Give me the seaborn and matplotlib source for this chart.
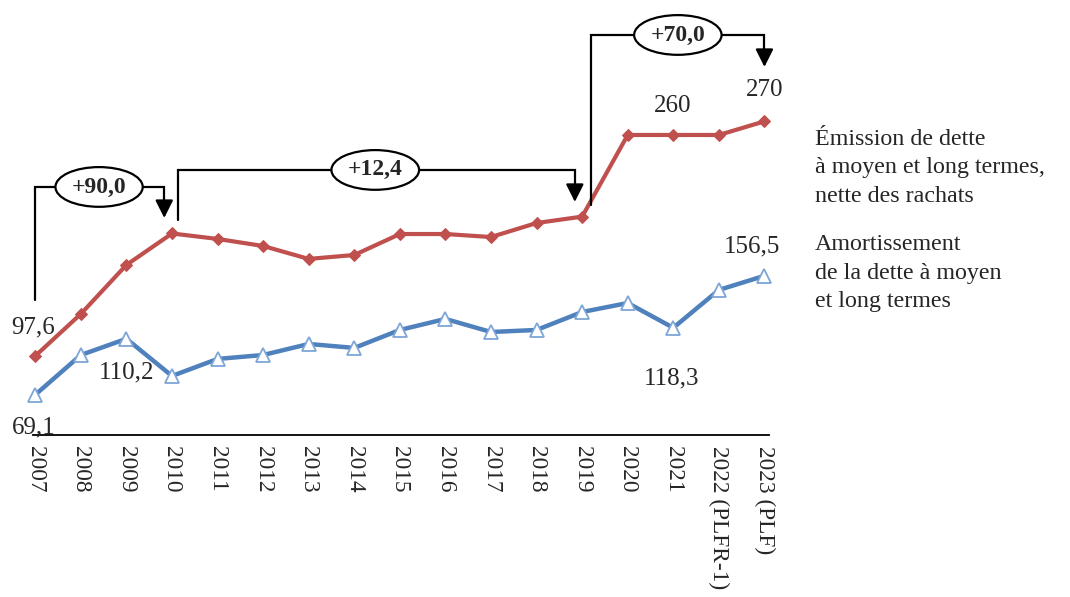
import matplotlib
matplotlib.use("Agg")
import matplotlib.pyplot as plt
import seaborn as sns
import pandas as pd
import numpy as np

years = ["2007", "2008", "2009", "2010", "2011", "2012", "2013", "2014", "2015",
         "2016", "2017", "2018", "2019", "2020", "2021", "2022 (PLFR-1)", "2023 (PLF)"]
emission = [97.6, 128.5, 164.5, 187.6, 183.6, 178.4, 168.9, 171.8, 187.2,
            187.2, 185.0, 195.3, 200.0, 260.0, 260.0, 260.0, 270.0]
amortissement = [69.1, 98.3, 110.2, 82.9, 95.4, 98.3, 106.4, 103.5, 116.7,
                 124.8, 115.2, 116.7, 129.9, 136.5, 118.3, 146.1, 156.5]
label_emission = ["Émission de dette", "à moyen et long termes,", "nette des rachats"]
label_amort = ["Amortissement", "de la dette à moyen", "et long termes"]
deltas = ["+90,0", "+12,4", "+70,0"]

sns.set_theme(style="white")
plt.rcParams['font.family'] = ['Liberation Serif', 'DejaVu Serif']

fig = plt.figure(figsize=(10.7, 5.97), dpi=100)
ax = fig.add_axes([33/1070, 1 - 435/597, (769-33)/1070, 435/597])

df = pd.DataFrame({"x": np.arange(len(years)), "em": emission, "am": amortissement})
red = "#C0504D"
blue = "#4F81BD"
sns.lineplot(data=df, x="x", y="em", ax=ax, color=red, lw=3, marker="D",
             markersize=6.5, markeredgecolor=red, markerfacecolor=red, clip_on=False)
sns.lineplot(data=df, x="x", y="am", ax=ax, color=blue, lw=3.2, marker="^",
             markersize=10, markeredgecolor="#7EA6D8", markerfacecolor="white",
             markeredgewidth=1.3, clip_on=False)

ax.set_xlim(-0.05, 16.1)
ax.set_ylim(39.5, 359.2)
ax.set_xticks(np.arange(len(years)))
ax.set_xticklabels(years, rotation=270, ha="center", va="top", fontsize=16.8)
ax.tick_params(axis="x", length=0, pad=8)
ax.set_yticks([])
ax.set_xlabel("")
ax.set_ylabel("")
for s in ["top", "right", "left"]:
    ax.spines[s].set_visible(False)
ax.spines["bottom"].set_color("black")
ax.spines["bottom"].set_linewidth(1.3)

fs = 18
# data labels
ax.text(-0.04, 118.2, "97,6", fontsize=fs, ha="center", va="center")
ax.text(-0.04, 45.4, "69,1", fontsize=fs, ha="center", va="center")
ax.text(2.0, 85.8, "110,2", fontsize=fs, ha="center", va="center")
ax.text(13.97, 81.4, "118,3", fontsize=fs, ha="center", va="center")
ax.text(13.99, 281.3, "260", fontsize=fs, ha="center", va="center")
ax.text(16.0, 293.1, "270", fontsize=fs, ha="center", va="center")
ax.text(15.72, 178.4, "156,5", fontsize=fs, ha="center", va="center")

# series labels, one line each at its baseline
for i, line in enumerate(label_emission):
    fig.text(815/1070, 1 - (145 + 28.5*i)/597, line, fontsize=17.3, ha="left",
             va="baseline")
for i, line in enumerate(label_amort):
    fig.text(815/1070, 1 - (250 + 28.5*i)/597, line, fontsize=17.3, ha="left",
             va="baseline")

# brackets with arrows
def bracket(x0, y0, ytop, x1, ytip, label, xc):
    ax.plot([x0, x0, x1, x1], [y0, ytop, ytop, ytip + 10.5], color="black", lw=1.6,
            solid_joinstyle="miter", clip_on=False)
    ax.annotate("", xy=(x1, ytip), xytext=(x1, ytip + 11),
                arrowprops=dict(arrowstyle="-|>,head_length=0.9,head_width=0.45",
                                color="black", lw=1.6, shrinkA=0, shrinkB=0))
    ax.text(xc, ytop, label, fontsize=17, fontweight="bold", ha="center", va="center",
            bbox=dict(boxstyle="ellipse,pad=0.15", fc="white", ec="black", lw=1.6))

bracket(0.0, 138.7, 221.8, 2.83, 199.0, deltas[0], 1.4)
bracket(3.14, 197.5, 234.3, 11.84, 210.8, deltas[1], 7.46)
bracket(12.2, 208.6, 333.5, 16.0, 310.0, deltas[2], 14.1)

fig.savefig("out.png", dpi=100)
